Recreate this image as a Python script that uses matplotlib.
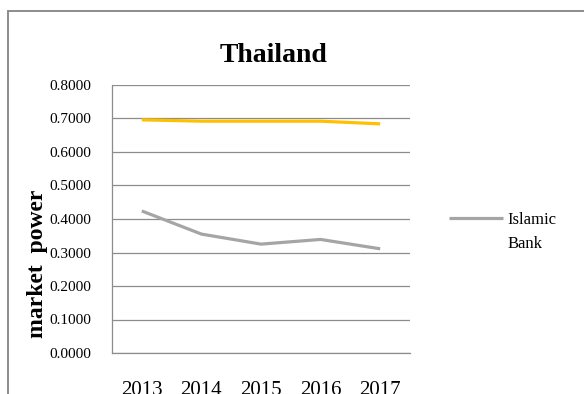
import numpy as np
import matplotlib
matplotlib.use('Agg')
import matplotlib.pyplot as plt
from matplotlib.patches import Rectangle

# datos
years = ['2013', '2014', '2015', '2016', '2017']
islamic_bank = [0.424, 0.355, 0.325, 0.339, 0.311]
other_bank = [0.696, 0.692, 0.692, 0.692, 0.684]
yticks = [0.0, 0.1, 0.2, 0.3, 0.4, 0.5, 0.6, 0.7, 0.8]

plt.rcParams['font.family'] = ['Liberation Serif', 'DejaVu Serif']

W, H = 584, 394
fig = plt.figure(figsize=(W / 100, H / 100), dpi=100)
ax = fig.add_axes([112 / W, 1 - 353 / H, 298 / W, 268 / H])

x = np.arange(len(years))
ax.plot(x, other_bank, color='#FFC000', linewidth=2.3, solid_capstyle='butt')
ax.plot(x, islamic_bank, color='#A5A5A5', linewidth=2.3, solid_capstyle='butt',
        label='Islamic\nBank')

ax.set_xlim(-0.5, len(years) - 0.5)
ax.set_ylim(0, 0.8)
ax.set_yticks(yticks)
ax.set_yticklabels(['%.4f' % v for v in yticks], fontsize=11)
ax.set_xticks(x)
ax.set_xticklabels(years, fontsize=15)
ax.tick_params(axis='y', length=0, pad=15)
ax.tick_params(axis='x', length=0, pad=20.5)
ax.grid(axis='y', color='#8C8C8C', linewidth=0.9)
ax.set_axisbelow(True)
for s in ['top', 'right']:
    ax.spines[s].set_visible(False)
for s in ['left', 'bottom']:
    ax.spines[s].set_color('#8C8C8C')
    ax.spines[s].set_linewidth(0.9)

leg = ax.legend(loc='lower left', bbox_to_anchor=(1.11, 0.28), frameon=False,
                fontsize=12, handlelength=3.2, handletextpad=0.3,
                handleheight=6.4, borderaxespad=0)
for t in leg.get_texts():
    t.set_linespacing(1.7)

fig.text(274 / W, 1 - 62 / H, 'Thailand', fontsize=20, fontweight='bold',
         ha='center', va='baseline')
fig.text(38 / W, 1 - 264 / H, 'market  power', fontsize=17, fontweight='bold',
         rotation=90, ha='center', va='center')

# marco exterior (sale por la derecha y por abajo)
top = 1 - 11 / H
fig.add_artist(Rectangle((8 / W, -0.5), 1.0, top + 0.5,
                         transform=fig.transFigure, fill=False,
                         edgecolor='#8C8C8C', linewidth=1.4))

plt.savefig('out.png', dpi=100)
